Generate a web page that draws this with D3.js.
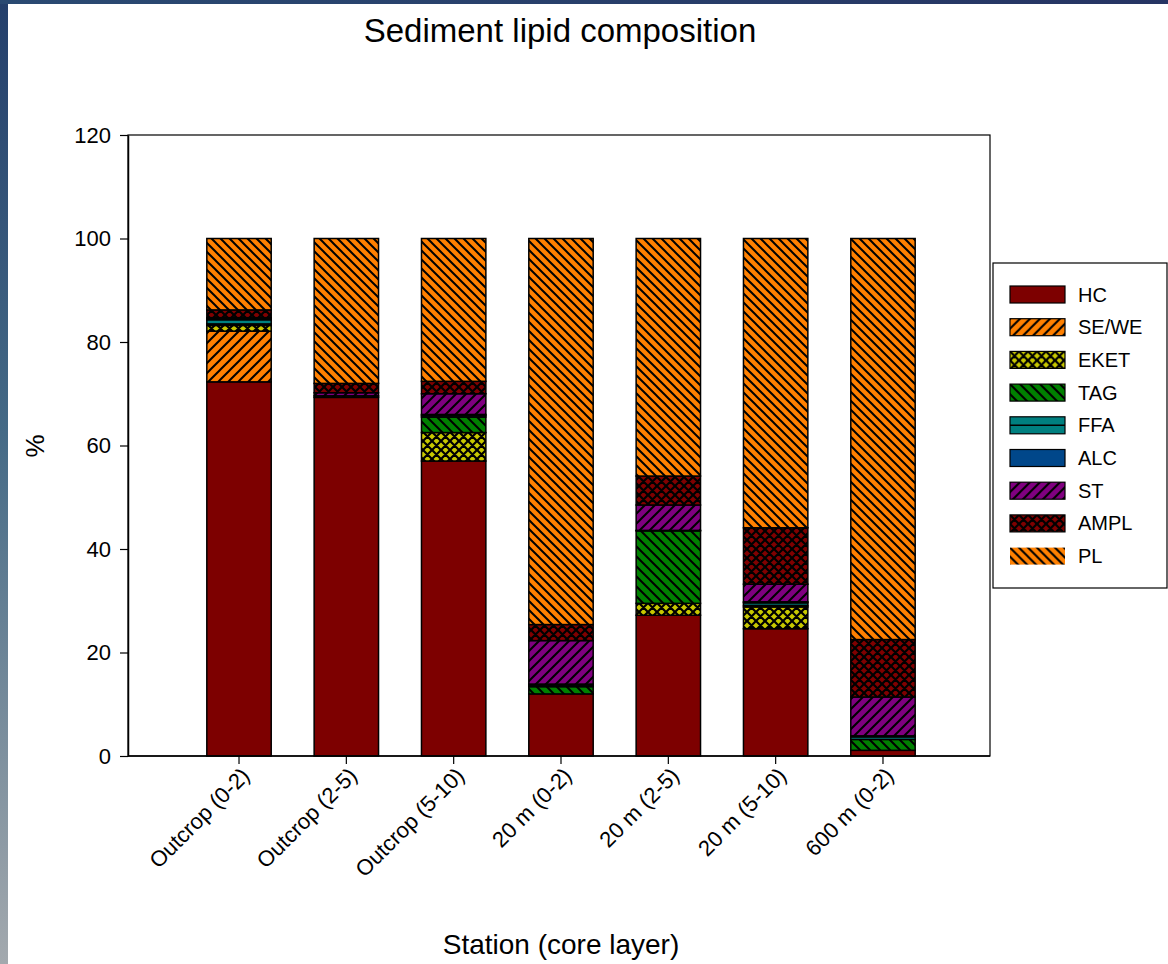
<!DOCTYPE html>
<html>
<head>
<meta charset="utf-8">
<script src="https://cdn.jsdelivr.net/npm/d3@7"></script>
<style>
  html, body { margin: 0; padding: 0; background: #fff; }
  svg { display: block; font-family: "Liberation Sans", Arial, sans-serif; }
</style>
</head>
<body>
<svg id="chart" width="1168" height="964"></svg>
<script>
// Stations (core layer, cm)
const categories = ["Outcrop (0-2)", "Outcrop (2-5)", "Outcrop (5-10)", "20 m (0-2)", "20 m (2-5)", "20 m (5-10)", "600 m (0-2)"];

// Lipid class percentages per station
const HC   = [72.3, 69.3, 57.0, 12.0, 27.2, 24.6, 1.1];
const SEWE = [9.8, 0.3, 0.0, 0.0, 0.0, 0.0, 0.0];
const EKET = [1.1, 0.0, 5.5, 0.0, 2.3, 4.2, 0.0];
const TAG  = [0.3, 0.0, 3.0, 1.4, 14.0, 0.3, 2.1];
const FFA  = [0.8, 0.0, 0.3, 0.3, 0.1, 0.5, 0.5];
const ALC  = [0.2, 0.0, 0.2, 0.2, 0.0, 0.2, 0.2];
const ST   = [0.2, 0.6, 4.0, 8.4, 4.9, 3.4, 7.5];
const AMPL = [1.5, 1.8, 2.4, 3.1, 5.6, 10.9, 11.1];
const PL   = [13.8, 28.0, 27.6, 74.6, 45.9, 55.9, 77.5];

const seriesNames = ["HC", "SE/WE", "EKET", "TAG", "FFA", "ALC", "ST", "AMPL", "PL"];
const seriesValues = [HC, SEWE, EKET, TAG, FFA, ALC, ST, AMPL, PL];
const yTicks = [0, 20, 40, 60, 80, 100, 120];

const svg = d3.select("#chart");
const W = 1168, H = 964;

// Backdrop strips along the top and left edges
const defs = svg.append("defs");
const bg = defs.append("linearGradient").attr("id", "edgeGrad")
  .attr("x1", 0).attr("y1", 0).attr("x2", 0).attr("y2", 1);
bg.append("stop").attr("offset", "0%").attr("stop-color", "#243f6b");
bg.append("stop").attr("offset", "45%").attr("stop-color", "#456a86");
bg.append("stop").attr("offset", "100%").attr("stop-color", "#a3a9ae");
const topGrad = defs.append("linearGradient").attr("id", "topGrad");
topGrad.append("stop").attr("offset", "0%").attr("stop-color", "#2a4a72");
topGrad.append("stop").attr("offset", "100%").attr("stop-color", "#263463");
svg.append("rect").attr("x", 0).attr("y", 0).attr("width", 8).attr("height", H).attr("fill", "url(#edgeGrad)");
svg.append("rect").attr("x", 0).attr("y", 0).attr("width", W).attr("height", 4).attr("fill", "url(#topGrad)");

// Fill patterns
function hatch(id, color, size, dir, sw) {
  const p = defs.append("pattern").attr("id", id).attr("patternUnits", "userSpaceOnUse")
    .attr("width", size).attr("height", size);
  p.append("rect").attr("width", size).attr("height", size).attr("fill", color);
  const s = size;
  const d = dir === "/"
    ? `M0,${s} L${s},0 M${-s/2},${s/2} L${s/2},${-s/2} M${s/2},${3*s/2} L${3*s/2},${s/2}`
    : `M0,0 L${s},${s} M${-s/2},${s/2} L${s/2},${3*s/2} M${s/2},${-s/2} L${3*s/2},${s/2}`;
  p.append("path").attr("d", d).attr("stroke", "#000").attr("stroke-width", sw).attr("fill", "none");
}
function cross(id, color, size, sw) {
  const p = defs.append("pattern").attr("id", id).attr("patternUnits", "userSpaceOnUse")
    .attr("width", size).attr("height", size);
  p.append("rect").attr("width", size).attr("height", size).attr("fill", color);
  const s = size;
  p.append("path")
    .attr("d", `M0,0 L${s},${s} M0,${s} L${s},0 M${-s/2},${s/2} L${s/2},${-s/2} M${s/2},${3*s/2} L${3*s/2},${s/2} M${-s/2},${s/2} L${s/2},${3*s/2} M${s/2},${-s/2} L${3*s/2},${s/2}`)
    .attr("stroke", "#000").attr("stroke-width", sw).attr("fill", "none");
}
hatch("pSEWE", "#ff8000", 10, "/", 2);
cross("pEKET", "#c8c800", 9, 2.2);
hatch("pTAG", "#008000", 10, "\\", 2);
hatch("pST", "#800080", 10, "/", 2);
cross("pAMPL", "#800000", 9, 2.2);
hatch("pPL", "#ff8000", 9, "\\", 2);

const fills = {
  "HC": "#7d0000",
  "SE/WE": "url(#pSEWE)",
  "EKET": "url(#pEKET)",
  "TAG": "url(#pTAG)",
  "FFA": "#008080",
  "ALC": "#00478a",
  "ST": "url(#pST)",
  "AMPL": "url(#pAMPL)",
  "PL": "url(#pPL)"
};

// Table of rows for the stack layout
const rows = categories.map((c, i) => {
  const r = { station: c };
  seriesNames.forEach((k, j) => { r[k] = seriesValues[j][i]; });
  return r;
});
const stacked = d3.stack().keys(seriesNames)(rows);

// Plot area
const plot = { left: 128, right: 990, top: 135, bottom: 756 };
const y = d3.scaleLinear().domain([0, 120]).range([plot.bottom, plot.top]);
const x = d3.scaleBand().domain(categories)
  .range([185.35, 936.65]).paddingInner(0.4).paddingOuter(0.2);

// Frame
svg.append("rect")
  .attr("x", plot.left).attr("y", plot.top)
  .attr("width", plot.right - plot.left).attr("height", plot.bottom - plot.top)
  .attr("fill", "#fff").attr("stroke", "#000").attr("stroke-width", 1.2);

// Stacked bars
const layer = svg.append("g").selectAll("g").data(stacked).join("g")
  .attr("fill", d => fills[d.key]);
layer.selectAll("rect")
  .data(d => d.filter(s => s[1] - s[0] > 0))
  .join("rect")
  .attr("x", d => x(d.data.station))
  .attr("width", x.bandwidth())
  .attr("y", d => y(d[1]))
  .attr("height", d => y(d[0]) - y(d[1]))
  .attr("stroke", "#000")
  .attr("stroke-width", 1.5);

// Y axis
const yAxis = svg.append("g").attr("transform", `translate(${plot.left},0)`)
  .call(d3.axisLeft(y).tickValues(yTicks).tickSize(8).tickSizeOuter(0).tickPadding(9));
yAxis.select(".domain").attr("stroke-width", 1.5);
yAxis.selectAll(".tick line").attr("stroke-width", 1.2);
yAxis.selectAll("text").attr("font-size", 22).attr("fill", "#000")
  .attr("font-family", "Liberation Sans, Arial, sans-serif");

// X axis
const xAxis = svg.append("g").attr("transform", `translate(0,${plot.bottom})`)
  .call(d3.axisBottom(x).tickSize(8).tickSizeOuter(0));
xAxis.select(".domain").attr("d", `M${plot.left},0H${plot.right}`).attr("stroke-width", 1.5);
xAxis.selectAll(".tick line").attr("stroke-width", 1.2);
xAxis.selectAll("text")
  .attr("font-size", 22).attr("fill", "#000")
  .attr("font-family", "Liberation Sans, Arial, sans-serif")
  .attr("text-anchor", "end")
  .attr("dy", "0")
  .attr("y", 0)
  .attr("transform", "translate(12,21) rotate(-45)");

// Titles
svg.append("text").attr("x", 560).attr("y", 42).attr("text-anchor", "middle")
  .attr("font-size", 33).text("Sediment lipid composition");
svg.append("text").attr("x", 561).attr("y", 954).attr("text-anchor", "middle")
  .attr("font-size", 28).text("Station (core layer)");
svg.append("text").attr("transform", "translate(44,446) rotate(-90)").attr("text-anchor", "middle")
  .attr("font-size", 26).text("%");

// Legend
const lg = svg.append("g");
lg.append("rect").attr("x", 993).attr("y", 263).attr("width", 174).attr("height", 325)
  .attr("fill", "#fff").attr("stroke", "#000").attr("stroke-width", 1.2);
const item = lg.selectAll("g.item").data(seriesNames).join("g").attr("class", "item")
  .attr("transform", (d, i) => `translate(1010,${286 + i * 32.7})`);
item.append("rect").attr("width", 55).attr("height", 17)
  .attr("fill", d => fills[d])
  .attr("stroke", d => d === "PL" ? "none" : "#000").attr("stroke-width", 1.2);
item.filter(d => d === "FFA").append("line")
  .attr("x1", 0).attr("x2", 55).attr("y1", 8.5).attr("y2", 8.5)
  .attr("stroke", "#000").attr("stroke-width", 1.5);
item.append("text").attr("x", 68).attr("y", 15.5).attr("font-size", 20).text(d => d);
</script>
</body>
</html>
